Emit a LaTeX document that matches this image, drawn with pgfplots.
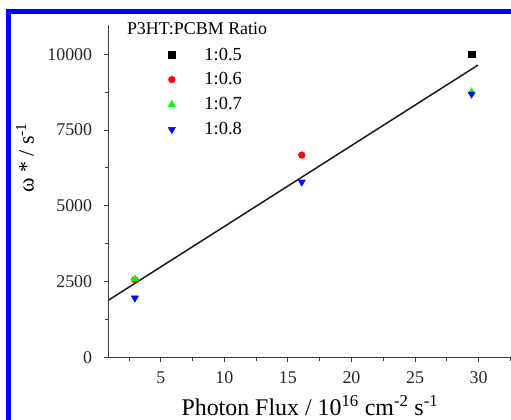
\documentclass[border=0pt]{standalone}
\usepackage{pgfplots}
\pgfplotsset{compat=1.18}
\usepackage{fontspec}
\setmainfont{Liberation Serif}

\definecolor{axgray}{RGB}{60,60,60}

\begin{document}
\begin{tikzpicture}
\useasboundingbox (0,0) rectangle (511bp,420bp);
\begin{axis}[
    at={(108.7bp,62.7bp)}, anchor=south west,
    scale only axis,
    width=402.3bp, height=332.3bp,
    xmin=0.9, xmax=32.55,
    ymin=0, ymax=10970,
    axis lines*=left,
    axis line style={axgray, line width=1.1bp},
    tick style={axgray, line width=1bp},
    tick align=outside,
    major tick length=5bp,
    minor tick length=3.5bp,
    xtick={5,10,...,30},
    minor xtick={2.5,7.5,...,32.5},
    ytick={0,2500,5000,7500,10000},
    minor ytick={1250,3750,6250,8750},
    scaled y ticks=false,
    /pgf/number format/assume math mode=true,
    /pgf/number format/1000 sep={},
    tick label style={font=\fontsize{18}{20}\selectfont, text=black!85},
    xticklabel style={yshift=-6bp},
    yticklabel style={xshift=-8bp},
    xlabel={Photon Flux / 10\textsuperscript{16} cm\textsuperscript{-2} s\textsuperscript{-1}},
    xlabel style={font=\fontsize{24}{26}\selectfont, at={(axis description cs:0.5,-0.176)}, anchor=base},
    ylabel={ω * / s\textsuperscript{-1}},
    ylabel style={font=\fontsize{22}{24}\selectfont, at={(axis description cs:-0.208,0.6)}, anchor=center, rotate=0},
    legend style={draw=none, fill=none, at={(axis description cs:0.14,0.944)}, anchor=north west,
        font=\fontsize{18.5}{20}\selectfont, row sep=7.2bp,
        /tikz/every odd column/.append style={column sep=27bp}},
    legend cell align=left,
    clip=false,
]
\addplot[only marks, mark=square*, mark size=3.2bp, black] coordinates {(29.45,10000)};
\addlegendentry{1:0.5}
\addplot[only marks, mark=*, mark size=3.4bp, red] coordinates {(2.96,2560) (16.09,6676)};
\addlegendentry{1:0.6}
\addplot[only marks, mark=triangle*, mark size=4.2bp, green] coordinates {(2.96,2584) (29.45,8760)};
\addlegendentry{1:0.7}
\addplot[only marks, mark=triangle*, mark options={rotate=180}, mark size=4.2bp, blue] coordinates {(2.96,1957) (16.09,5785) (29.45,8690)};
\addlegendentry{1:0.8}
\addplot[black!90, line width=1.5bp, forget plot] coordinates {(0.9,1890) (29.95,9646)};
\node[anchor=west, font=\fontsize{18}{20}\selectfont, inner sep=0pt] at (axis description cs:0.045,0.99) {P3HT:PCBM Ratio};
\end{axis}
\draw[blue, line width=5bp, line join=miter] (8.5bp,0) -- (8.5bp,408bp) -- (511bp,408bp);
\end{tikzpicture}
\end{document}
